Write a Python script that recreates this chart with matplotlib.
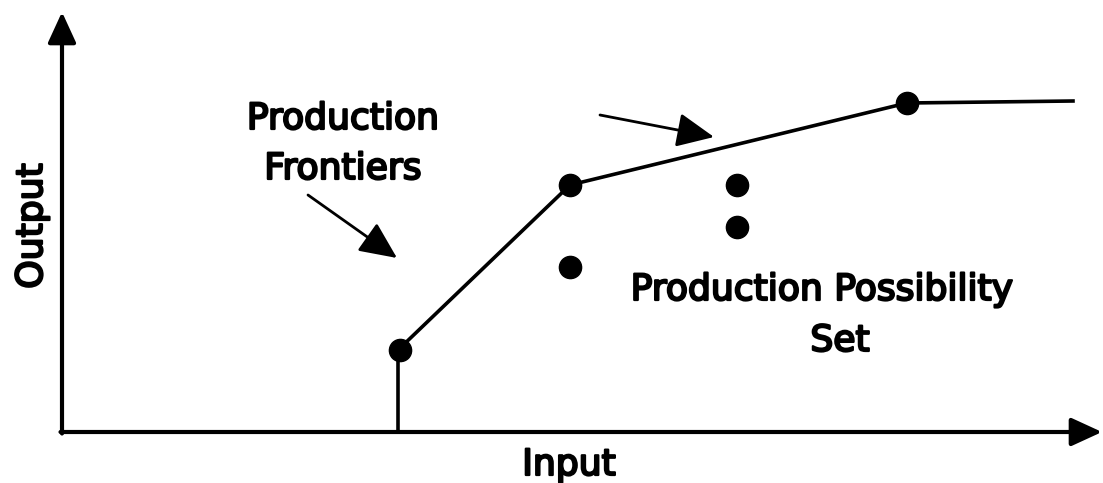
import matplotlib
matplotlib.use('Agg')
import matplotlib.pyplot as plt
import matplotlib.patheffects as pe

plt.rcParams['font.family'] = ['DejaVu Sans']

# frontier (input, output)
frontier_x = [33.6, 33.6, 50.8, 84.5, 101.1]
frontier_y = [0.0, 8.2, 24.7, 32.9, 33.1]

# efficient units on the frontier
eff_x = [33.8, 50.8, 84.5]
eff_y = [8.2, 24.7, 32.9]

# inefficient units inside the set
ineff_x = [50.8, 67.5, 67.5]
ineff_y = [16.5, 24.7, 20.5]

fig = plt.figure(figsize=(11.03, 4.83), dpi=100)
ax = fig.add_axes([0, 0, 1, 1])
ax.set_xlim(-6.2, 104.1)
ax.set_ylim(-5.1, 43.2)
ax.axis('off')

# axes with arrow heads
axis_arrow = dict(arrowstyle='-|>,head_length=1.35,head_width=0.62', color='black',
                  lw=3, mutation_scale=14, shrinkA=0, shrinkB=0)
ax.annotate('', xy=(0, 42.0), xytext=(0, -0.15), arrowprops=axis_arrow)
ax.annotate('', xy=(104.0, 0), xytext=(-0.15, 0), arrowprops=axis_arrow)

ax.plot(frontier_x, frontier_y, color='black', lw=2.6, solid_joinstyle='miter')
ax.plot(eff_x, eff_y, 'o', color='black', ms=16)
ax.plot(ineff_x, ineff_y, 'o', color='black', ms=16)

pointer = dict(arrowstyle='-|>,head_length=1.35,head_width=0.62', color='black',
               lw=2, mutation_scale=17, shrinkA=0, shrinkB=0)
ax.annotate('', xy=(33.5, 17.4), xytext=(24.6, 23.7), arrowprops=pointer)
ax.annotate('', xy=(65.2, 29.5), xytext=(53.8, 31.7), arrowprops=pointer)

thick = [pe.withStroke(linewidth=1.6, foreground='black')]
font = dict(fontsize=26, color='black', path_effects=thick)
ax.text(28.1, 30.3, 'Production', ha='center', va='baseline', **font)
ax.text(28.1, 25.3, 'Frontiers', ha='center', va='baseline', **font)
ax.text(76.0, 13.2, 'Production Possibility', ha='center', va='baseline', **font)
ax.text(77.8, 8.1, 'Set', ha='center', va='baseline', **font)
ax.text(-3.0, 20.6, 'Output', ha='center', va='center', rotation=90, **font)
ax.text(50.7, -4.3, 'Input', ha='center', va='baseline', **font)

fig.savefig('out.png', dpi=100)
